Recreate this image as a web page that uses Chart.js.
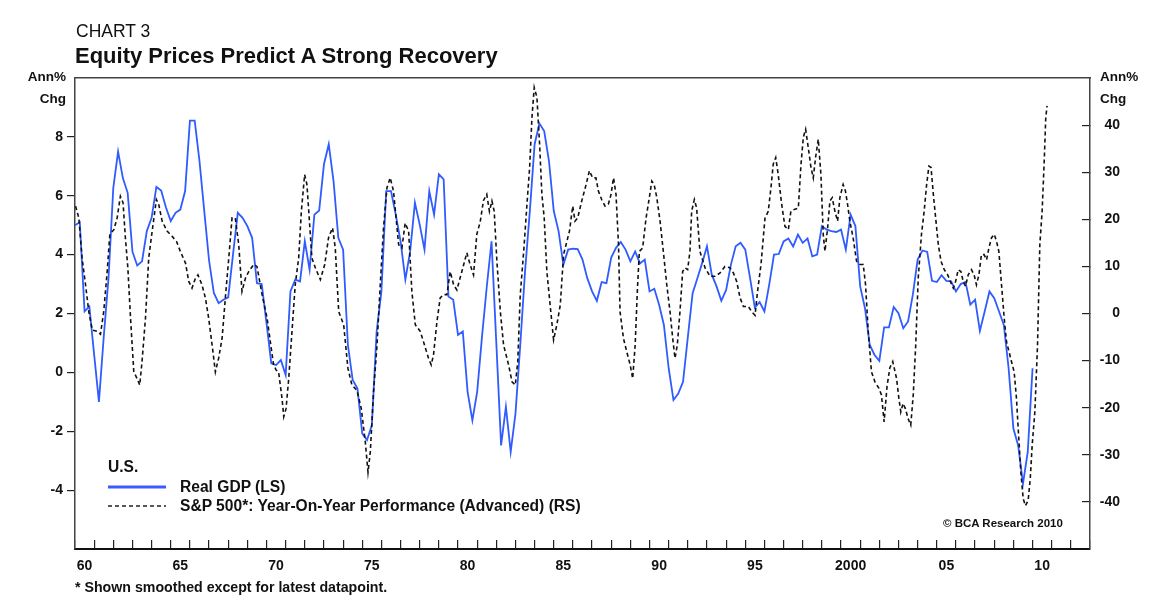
<!DOCTYPE html>
<html>
<head>
<meta charset="utf-8">
<script src="https://cdn.jsdelivr.net/npm/chart.js@4.4.0/dist/chart.umd.min.js"></script>
<style>
  html, body { margin: 0; padding: 0; background: #fff; }
  #wrap { position: relative; width: 1154px; height: 607px; overflow: hidden;
          font-family: "Liberation Sans", Arial, sans-serif; color: #111; }
  #c { position: absolute; left: 0; top: 0; }
  .t { position: absolute; white-space: nowrap; line-height: 1; }
  .b { font-weight: bold; }
</style>
</head>
<body>
<div id="wrap">
  <canvas id="c" width="1154" height="607"></canvas>
  <div class="t" style="left:76px;top:23px;font-size:17.5px;">CHART 3</div>
  <div class="t b" style="left:75px;top:45px;font-size:22px;">Equity Prices Predict A Strong Recovery</div>
  <div class="t b" style="left:0;width:66px;text-align:right;top:66px;font-size:13.5px;line-height:22px;">Ann%<br>Chg</div>
  <div class="t b" style="left:1100px;top:66px;font-size:13.5px;line-height:22px;">Ann%<br>Chg</div>

  <div class="t b" style="left:108px;top:459px;font-size:15.6px;">U.S.</div>
  <svg style="position:absolute;left:108px;top:482px;" width="58" height="10"><line x1="0" y1="5" x2="58" y2="5" stroke="#3a5cff" stroke-width="3"/></svg>
  <div class="t b" style="left:180px;top:479px;font-size:15.6px;">Real GDP (LS)</div>
  <svg style="position:absolute;left:108px;top:501px;" width="58" height="10"><line x1="0" y1="5" x2="58" y2="5" stroke="#222" stroke-width="1.6" stroke-dasharray="4 3"/></svg>
  <div class="t b" style="left:180px;top:498px;font-size:15.6px;">S&amp;P 500*: Year-On-Year Performance (Advanced) (RS)</div>

  <div class="t b" style="left:943px;top:518px;font-size:11.5px;">© BCA Research 2010</div>
  <div class="t b" style="left:75px;top:580px;font-size:14.2px;">* Shown smoothed except for latest datapoint.</div>
</div>
<script>
// ---------------- DATA ----------------
// Real GDP, annual % change, quarterly, first point at 1960.0 (LS)
const gdpStartYear = 1960;
const gdpValues = [
  5.0, 5.1, 2.07, 2.24,      // 1960
  0.6, -1.0, 1.2, 3.2,       // 1961
  6.27, 7.5, 6.6, 6.1,       // 1962
  4.1, 3.63, 3.77, 4.8,      // 1963
  5.25, 6.3, 6.18, 5.6,      // 1964
  5.14, 5.42, 5.53, 6.16,    // 1965
  8.55, 8.55, 7.18, 5.48,    // 1966
  3.8, 2.7, 2.35, 2.47,      // 1967
  2.55, 4.0, 5.42, 5.25,     // 1968
  4.97, 4.57, 3.03, 3.0,     // 1969
  1.67, 0.31, 0.25, 0.42,    // 1970
  -0.09, 2.75, 3.15, 3.09,   // 1971
  4.45, 3.49, 5.36, 5.5,     // 1972
  7.07, 7.75, 6.5, 4.57,     // 1973
  4.17, 0.93, -0.26, -0.55,  // 1974
  -2.08, -2.3, -1.8, 1.39,   // 1975
  2.75, 6.16, 6.16, 5.36,    // 1976
  4.45, 3.15, 4.11, 5.76,    // 1977
  5.02, 4.17, 6.16, 5.36,    // 1978
  6.73, 6.56, 2.58, 2.47,    // 1979
  1.27, 1.39, -0.66, -1.63,  // 1980
  -0.66, 1.2, 2.9, 4.45,     // 1981
  1.0, -2.48, -1.17, -2.7,   // 1982
  -1.4, 0.93, 3.43, 5.48,    // 1983
  7.75, 8.45, 8.2, 7.18,     // 1984
  5.48, 4.8, 3.66, 4.17,     // 1985
  4.2, 4.19, 3.83, 3.2,      // 1986
  2.75, 2.43, 3.07, 3.03,    // 1987
  3.9, 4.23, 4.43, 4.17,     // 1988
  3.77, 4.11, 3.7, 3.83,     // 1989
  2.75, 2.84, 2.3, 1.61,     // 1990
  0.14, -0.94, -0.72, -0.32, // 1991
  1.2, 2.69, 3.2, 3.72,      // 1992
  4.28, 3.32, 2.92, 2.43,    // 1993
  2.8, 3.66, 4.28, 4.4,      // 1994
  4.17, 3.2, 2.2, 2.39,      // 1995
  2.07, 2.98, 4.0, 4.02,     // 1996
  4.45, 4.55, 4.28, 4.68,    // 1997
  4.4, 4.55, 3.94, 4.0,      // 1998
  4.97, 4.85, 4.8, 4.77,     // 1999
  4.85, 4.17, 5.36, 4.97,    // 2000
  2.92, 2.18, 0.93, 0.59,    // 2001
  0.39, 1.53, 1.53, 2.22,    // 2002
  2.01, 1.5, 1.73, 2.64,     // 2003
  3.83, 4.14, 4.09, 3.11,    // 2004
  3.07, 3.3, 3.11, 3.09,     // 2005
  2.75, 3.0, 3.07, 2.3,      // 2006
  2.47, 1.41, 2.07, 2.75,    // 2007
  2.52, 2.07, 1.61, 0.14,    // 2008
  -1.91, -2.48, -3.78, -2.7, // 2009
  0.14                        // 2010
];

// S&P 500 year-on-year performance (advanced, smoothed), % (RS)
const spYears = [
  1960.03,1960.2,1960.37,1960.55,1960.72,1960.9,1961.16,1961.33,1961.5,1961.68,1961.82,
  1962.03,1962.2,1962.37,1962.51,1962.63,1962.76,1962.9,1963.07,1963.24,1963.38,1963.5,1963.68,1963.85,
  1964.03,1964.25,1964.37,1964.55,1964.81,1965.07,1965.3,1965.5,1965.77,1965.94,
  1966.11,1966.29,1966.42,1966.63,1966.81,1966.98,1967.16,1967.33,1967.5,1967.68,1967.85,
  1968.03,1968.2,1968.37,1968.55,1968.72,1968.9,1969.07,1969.33,1969.5,1969.77,
  1970.03,1970.2,1970.37,1970.5,1970.63,1970.81,1970.9,1971.02,1971.16,1971.33,1971.5,1971.68,1971.82,1971.99,
  1972.11,1972.23,1972.37,1972.55,1972.81,1973.04,1973.24,1973.45,1973.59,1973.77,
  1974.03,1974.25,1974.46,1974.72,1974.95,1975.16,1975.3,1975.42,1975.59,1975.77,1975.94,
  1976.11,1976.29,1976.46,1976.63,1976.9,1977.07,1977.24,1977.42,1977.59,1977.77,
  1978.03,1978.25,1978.46,1978.6,1978.72,1978.9,1979.07,1979.24,1979.42,1979.59,1979.77,1979.94,
  1980.2,1980.46,1980.63,1980.81,1980.98,1981.16,1981.33,1981.5,1981.64,1981.77,1981.89,
  1982.03,1982.21,1982.38,1982.64,1982.82,1982.99,1983.12,1983.25,1983.43,1983.6,1983.74,1983.86,1983.98,
  1984.12,1984.26,1984.38,1984.5,1984.64,1984.81,1984.99,1985.16,1985.34,1985.51,1985.64,1985.82,1985.99,
  1986.11,1986.25,1986.46,1986.69,1986.86,1987.03,1987.2,1987.33,1987.5,1987.68,1987.85,1987.99,
  1988.12,1988.25,1988.38,1988.46,1988.64,1988.81,1988.99,1989.12,1989.25,1989.37,1989.47,1989.64,1989.82,1989.99,
  1990.12,1990.24,1990.38,1990.55,1990.72,1990.9,1991.07,1991.21,1991.33,1991.45,1991.59,1991.73,1991.85,1991.99,
  1992.11,1992.2,1992.34,1992.46,1992.63,1992.9,1993.16,1993.42,1993.68,1993.94,
  1994.2,1994.38,1994.55,1994.73,1994.9,1995.16,1995.33,1995.51,1995.64,1995.82,
  1996.03,1996.2,1996.34,1996.46,1996.59,1996.72,1996.9,1997.07,1997.25,1997.38,1997.56,1997.77,1997.91,
  1998.03,1998.15,1998.29,1998.43,1998.55,1998.67,1998.81,1998.95,1999.07,1999.16,1999.3,1999.42,1999.54,1999.68,1999.82,1999.94,
  2000.11,2000.23,2000.34,2000.46,2000.63,2000.81,2000.99,2001.16,2001.28,2001.42,2001.59,2001.77,2001.98,
  2002.11,2002.25,2002.4,2002.55,2002.7,2002.9,2003.02,2003.12,2003.24,2003.36,2003.5,2003.64,2003.77,2003.9,
  2004.03,2004.2,2004.34,2004.47,2004.59,2004.7,2004.82,2004.94,2005.08,2005.22,2005.39,2005.57,2005.74,2005.86,2005.98,
  2006.12,2006.26,2006.38,2006.5,2006.64,2006.81,2006.95,2007.07,2007.2,2007.33,2007.47,2007.6,2007.72,2007.86,
  2008.0,2008.12,2008.24,2008.38,2008.52,2008.64,2008.77,2008.9,2009.04,2009.16,2009.25,2009.39,2009.51,2009.63,2009.77,2009.88,2009.98,
  2010.12,2010.26,2010.38,2010.5,2010.61,2010.69,2010.76
];
const spValues = [
  22.8,20.3,11.8,6.1,0.4,-3.5,-3.8,-4.4,0.4,8.9,16.8,
  17.8,20.3,24.9,23.5,16.1,9.7,-1.0,-12.4,-13.8,-15.2,-10.2,-1.0,11.8,
  17.5,24.2,23.2,19.6,17.5,16.4,15.3,13.2,10.7,6.8,
  5.4,7.5,8.2,6.1,3.3,-1.0,-6.7,-12.4,-9.5,-5.3,3.3,
  11.8,20.3,20.3,14.6,4.7,7.5,8.9,10.4,10.0,4.0,
  -1.0,-6.0,-10.9,-12.0,-12.4,-18.0,-21.9,-20.2,-13.8,-3.8,6.1,11.8,21.7,29.5,
  27.4,20.3,11.8,9.7,7.2,10.4,16.1,18.2,13.9,0.4,
  -2.4,-11.6,-15.2,-16.3,-20.2,-27.3,-33.7,-29.4,-16.6,-6.7,6.1,
  18.2,26.7,28.8,26.0,14.6,13.9,19.2,17.5,4.7,-2.4,
  -3.8,-6.7,-9.5,-10.9,-8.8,-1.7,3.3,4.0,4.0,8.9,6.1,5.0,
  8.9,12.9,10.4,8.2,16.8,19.5,24.0,25.3,21.7,23.9,21.7,
  11.1,0.4,-6.7,-10.9,-14.5,-15.2,-10.2,4.0,13.2,23.2,31.0,41.6,48.0,
  45.9,35.9,25.3,20.3,8.9,1.8,-5.6,-2.4,1.8,12.5,14.6,17.5,22.8,
  19.6,20.3,23.9,27.4,30.3,28.8,28.8,26.0,24.2,22.8,23.2,25.3,
  28.8,25.3,14.6,0.4,-5.3,-8.1,-10.9,-13.8,-6.7,5.4,13.2,13.9,20.3,24.6,
  28.1,27.4,24.6,19.6,13.2,6.1,0.4,-5.3,-9.5,-6.7,0.4,8.9,9.7,9.3,
  13.2,21.7,24.2,22.4,13.2,9.7,7.9,7.9,8.6,10.0,
  9.7,8.6,6.8,3.3,1.5,1.5,0.4,-0.4,4.7,10.4,
  20.3,21.7,26.7,31.7,33.1,29.5,23.2,18.5,17.8,21.7,22.1,22.4,31.7,
  37.4,39.1,35.2,31.0,28.8,33.1,37.0,29.5,16.8,13.2,18.2,23.9,24.6,21.7,19.6,24.6,
  27.4,26.0,23.2,19.6,16.1,11.1,10.4,10.4,6.1,-3.8,-12.4,-14.5,-15.9,
  -17.3,-23.0,-15.5,-11.5,-10.2,-13.8,-18.0,-20.9,-19.1,-20.2,-22.3,-23.7,-17.3,-6.7,
  7.5,16.8,21.7,27.4,31.3,31.0,25.3,20.3,14.6,11.1,9.3,8.2,6.5,5.4,6.8,
  9.3,8.9,6.8,5.8,8.2,9.3,8.2,6.1,8.2,12.5,12.5,11.4,13.9,16.1,
  16.8,15.3,13.2,6.1,-1.0,-6.0,-8.1,-10.2,-12.4,-18.0,-24.4,-33.7,-39.3,-40.8,-39.7,-35.1,-28.0,
  -20.9,-6.7,14.6,21.7,32.4,41.6,44.1
];

// axes
const xMin = 1960, xMax = 2013;
const xLabelYears = [1960, 1965, 1970, 1975, 1980, 1985, 1990, 1995, 2000, 2005, 2010];
const xLabelText  = ['60', '65', '70', '75', '80', '85', '90', '95', '2000', '05', '10'];
const leftMin = -6, leftMax = 10;
const leftTicks = [-4, -2, 0, 2, 4, 6, 8];
const rightMin = -50, rightMax = 50;
const rightTicks = [-40, -30, -20, -10, 0, 10, 20, 30, 40];

// ---------------- CHART ----------------
const xTickYears = [];
for (let y = xMin; y <= xMax; y++) xTickYears.push(y);
const gdpPoints = gdpValues.map((v, i) => ({ x: gdpStartYear + i * 0.25, y: v }));
const spPoints = spYears.map((x, i) => ({ x: x, y: spValues[i] }));

const FONT = '"Liberation Sans", Arial, sans-serif';
const tickFont = { family: FONT, size: 14, weight: 'bold' };

new Chart(document.getElementById('c'), {
  type: 'line',
  data: {
    datasets: [
      { label: 'Real GDP (LS)', data: gdpPoints, xAxisID: 'x', yAxisID: 'y',
        borderColor: '#2f5bff', borderWidth: 1.8, pointRadius: 0, tension: 0, fill: false, order: 1 },
      { label: 'S&P 500*: Year-On-Year Performance (Advanced) (RS)', data: spPoints, xAxisID: 'x', yAxisID: 'y2',
        borderColor: '#111', borderWidth: 1.6, borderDash: [4, 3], pointRadius: 0, tension: 0, fill: false, order: 0 }
    ]
  },
  options: {
    responsive: false,
    animation: false,
    events: [],
    layout: { padding: { left: 21, right: 34, top: 78, bottom: 18 } },
    plugins: { legend: { display: false }, tooltip: { enabled: false }, title: { display: false } },
    scales: {
      x: {
        type: 'linear', position: 'bottom', min: xMin, max: xMax,
        afterBuildTicks: s => { s.ticks = xTickYears.map(v => ({ value: v })); },
        afterFit: s => { s.height = 40; },
        grid: { drawOnChartArea: false, drawTicks: true, tickLength: -9, color: '#222', lineWidth: 1.2 },
        border: { display: true, color: '#111', width: 2 },
        ticks: {
          autoSkip: false, maxRotation: 0, minRotation: 0, padding: 18, labelOffset: 9.6,
          color: '#111', font: tickFont,
          callback: v => { const i = xLabelYears.indexOf(v); return i >= 0 ? xLabelText[i] : ''; }
        }
      },
      xTop: {
        type: 'linear', position: 'top', min: xMin, max: xMax,
        grid: { display: false, drawTicks: false },
        ticks: { display: false },
        border: { display: true, color: '#444', width: 1.5 }
      },
      y: {
        type: 'linear', position: 'left', min: leftMin, max: leftMax,
        afterBuildTicks: s => { s.ticks = leftTicks.map(v => ({ value: v })); },
        afterFit: s => { s.width = 54; },
        grid: { drawOnChartArea: false, tickLength: 8, color: '#222', lineWidth: 1.2 },
        border: { display: true, color: '#444', width: 1.5 },
        ticks: { padding: 4, color: '#111', font: tickFont }
      },
      y2: {
        type: 'linear', position: 'right', min: rightMin, max: rightMax,
        afterBuildTicks: s => { s.ticks = rightTicks.map(v => ({ value: v })); },
        afterFit: s => { s.width = 30; },
        grid: { drawOnChartArea: false, tickLength: -8, color: '#222', lineWidth: 1.2 },
        border: { display: true, color: '#444', width: 1.5 },
        ticks: { padding: 21, crossAlign: 'far', color: '#111', font: tickFont }
      }
    }
  }
});
</script>
</body>
</html>
